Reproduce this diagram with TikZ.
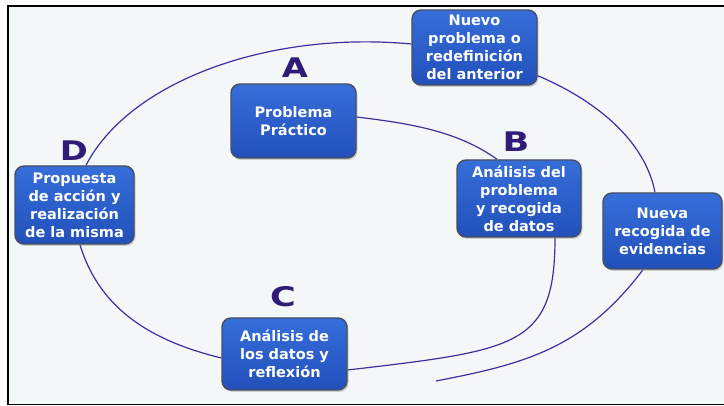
\documentclass[tikz,border=0pt]{standalone}
\usepackage{fontspec}
\newfontfamily\dvs{DejaVu Sans}
\usetikzlibrary{shadows}
\pgfdeclarelayer{back}
\pgfdeclarelayer{mid}
\pgfsetlayers{back,mid,main}
\definecolor{bgc}{RGB}{243,247,247}
\definecolor{arcc}{RGB}{62,48,160}
\definecolor{boxtop}{RGB}{54,110,218}
\definecolor{boxbot}{RGB}{34,80,186}
\definecolor{boxedge}{RGB}{72,78,98}
\definecolor{letc}{RGB}{48,28,118}
\begin{document}
\begin{tikzpicture}[x=1pt,y=-1pt,
  stage/.style={rounded corners=9pt, top color=boxtop, bottom color=boxbot,
    draw=boxedge, line width=1.4pt, text=white,
    font=\dvs\bfseries\fontsize{14.5}{18}\selectfont, align=center,
    minimum width=124pt, minimum height=76pt, inner sep=0pt,
    drop shadow={opacity=0.35,shadow xshift=1.5pt,shadow yshift=-2pt}},
  letter/.style={text=letc, font=\dvs\bfseries\fontsize{27}{27}\selectfont, inner sep=0pt},
  cyc/.style={draw=arcc, line width=1.2pt}
]
\useasboundingbox (0,0) rectangle (724,406);
\begin{pgfonlayer}{back}
\fill[white] (0,0) rectangle (724,406);
\draw[fill=bgc, line width=1.5pt] (8,6) rectangle (730,404.5);
\end{pgfonlayer}

\node[stage, minimum width=125pt, minimum height=74pt] (A) at (293.5,121) {Problema\\Práctico};
\node[stage, minimum width=125pt, minimum height=75pt] (N) at (474.5,47.5) {Nuevo\\problema o\\redefinición\\del anterior};
\node[stage, minimum width=124pt, minimum height=77pt] (B) at (519,198.5) {Análisis del\\problema\\y recogida\\de datos};
\node[stage, minimum width=119pt] (E) at (662.5,231) {Nueva\\recogida de\\evidencias};
\node[stage, minimum width=125pt, minimum height=72pt] (C) at (284.5,354) {Análisis de\\los datos y\\reflexión};
\node[stage, minimum width=119pt, minimum height=78pt] (D) at (74.5,205) {Propuesta\\de acción y\\realización\\de la misma};

\node[letter] (LA) at (295,68) {\scalebox{1.25}[1]{A}};
\node[letter] (LB) at (516,142) {\scalebox{1.3}[1]{B}};
\node[letter] (LC) at (283,297) {\scalebox{1.3}[1]{C}};
\node[letter] (LD) at (74,151) {\scalebox{1.25}[1]{D}};

\coordinate (oend) at (436,381);

\begin{pgfonlayer}{mid}
\draw[cyc] ([xshift=11.5pt]D.north) .. controls (128.7,82.5) and (266.3,30.5) .. ([yshift=3.5pt]N.west);
\draw[cyc] ([yshift=10pt]N.south east) .. controls (603.1,103.4) and (645.9,145.1) .. ([xshift=-7.5pt]E.north);
\draw[cyc] ([xshift=-19.5pt]E.south) .. controls (583,349) and (524,364) .. (oend);
\draw[cyc] ([xshift=5.5pt]D.south) .. controls (100,311) and (154,341.5) .. ([yshift=-4pt]C.west);
\draw[cyc] ([yshift=4pt]A.east) .. controls (405.5,123) and (456.5,130) .. ([xshift=-22pt]B.north);
\draw[cyc] ([xshift=36pt]B.south) .. controls (555,347) and (517,350) .. ([yshift=-16pt]C.east);
\end{pgfonlayer}
\end{tikzpicture}
\end{document}
